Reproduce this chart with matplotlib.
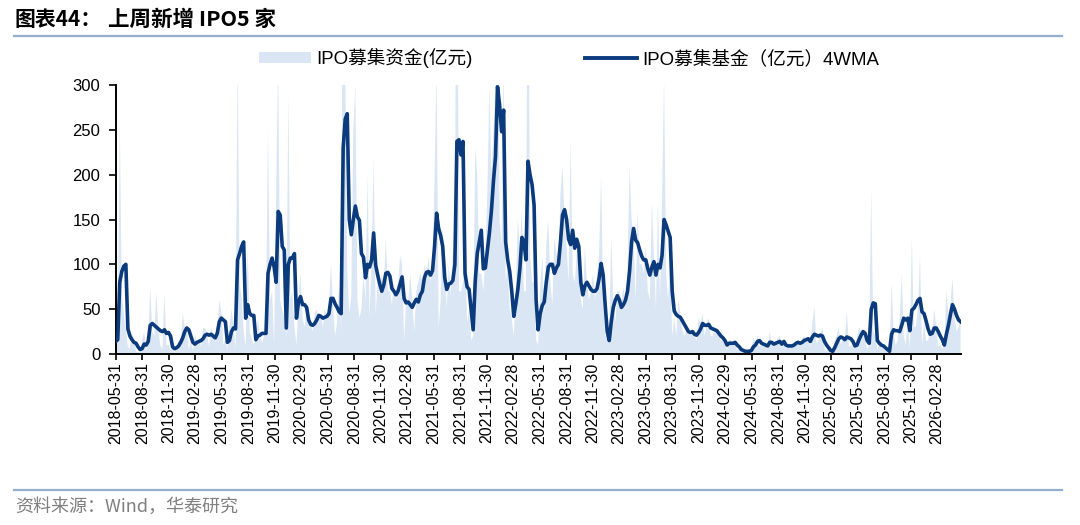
import matplotlib
matplotlib.use("Agg")
import matplotlib.pyplot as plt
from matplotlib.patches import Patch
from matplotlib.lines import Line2D
import pandas as pd
import numpy as np

# ---------------- data ----------------
start_date = "2018-05-31"

# weekly IPO raised funds (亿元)
ipo_raw = [
    15, 20, 260, 68, 44, 28, 8, 6, 25, 16,
    3, 2, 2, 15, 25, 3, 13, 75, 25, 20,
    70, 25, 10, 5, 68, 10, 10, 5, 7, 2,
    10, 15, 10, 45, 30, 31, 5, 14, 4, 21,
    13, 18, 8, 29, 29, 22, 8, 29, 21, 14,
    28, 60, 48, 10, 16, 5, 31, 50, 32, 5,
    340, 78, 64, 25, 8, 120, 24, 17, 10, 18,
    40, 21, 13, 18, 40, 250, 60, 70, 10, 180,
    330, 60, 50, 40, 20, 290, 60, 70, 30, 10,
    60, 90, 40, 30, 50, 30, 35, 25, 45, 50,
    40, 45, 30, 50, 40, 55, 100, 55, 20, 35,
    75, 30, 620, 330, 95, 45, 65, 250, 300, 60,
    40, 50, 90, 60, 200, 40, 110, 220, 45, 80,
    65, 90, 75, 130, 70, 70, 55, 80, 60, 70,
    110, 100, 15, 60, 55, 90, 60, 25, 70, 80,
    90, 80, 100, 85, 110, 80, 95, 200, 320, 30,
    60, 140, 110, 50, 100, 65, 115, 120, 650, 70,
    70, 80, 120, 35, 50, 15, 20, 230, 200, 90,
    90, 70, 110, 180, 300, 200, 250, 300, 450, 150,
    120, 330, 80, 100, 50, 40, 20, 70, 150, 120,
    160, 70, 70, 560, 110, 80, 80, 15, 10, 75,
    110, 45, 120, 150, 80, 55, 130, 110, 110, 180,
    210, 150, 120, 80, 240, 90, 80, 110, 120, 60,
    50, 120, 80, 60, 70, 90, 60, 90, 110, 200,
    60, 20, 20, 25, 130, 60, 35, 70, 70, 60,
    75, 50, 90, 210, 150, 130, 60, 160, 100, 100,
    90, 120, 70, 60, 170, 110, 50, 170, 60, 170,
    310, 90, 60, 110, 20, 40, 20, 60, 45, 25,
    20, 25, 30, 20, 25, 20, 15, 40, 35, 45,
    20, 35, 40, 20, 20, 30, 25, 20, 15, 15,
    10, 5, 15, 15, 10, 12, 5, 5, 2, 3,
    2, 3, 4, 6, 18, 12, 20, 8, 10, 8,
    12, 5, 25, 10, 8, 12, 18, 20, 6, 12,
    5, 12, 8, 10, 12, 15, 12, 10, 18, 20,
    15, 20, 8, 35, 52, 12, 15, 22, 30, 5,
    3, 8, 2, 2, 15, 20, 30, 10, 18, 15,
    48, 8, 10, 8, 10, 18, 30, 25, 28, 18,
    5, 10, 185, 25, 20, 5, 10, 8, 6, 4,
    2, 2, 80, 25, 10, 15, 40, 90, 20, 10,
    40, 5, 130, 30, 30, 50, 110, 10, 35, 15,
    15, 25, 20, 50, 30, 8, 10, 5, 10, 70,
    45, 55, 85, 40, 25, 30, 40,
]

# 4-week moving average (亿元)
ipo_4wma = [
    14, 16, 80, 92, 98, 100, 28, 20, 16, 13,
    12, 8, 5, 6, 11, 10, 14, 32, 34, 32,
    30, 28, 26, 25, 27, 23, 24, 20, 8, 6,
    7, 9, 13, 18, 25, 29, 27, 20, 13, 11,
    13, 14, 15, 17, 21, 22, 21, 22, 20, 18,
    23, 36, 40, 38, 36, 13, 15, 25, 29, 28,
    105, 112, 120, 125, 40, 55, 45, 43, 43, 16,
    20, 21, 23, 23, 23, 90, 100, 107, 97, 80,
    159, 155, 120, 116, 29, 100, 107, 107, 112, 40,
    58, 64, 55, 55, 52, 38, 33, 32, 34, 38,
    43, 42, 40, 41, 42, 45, 62, 62, 56, 52,
    47, 45, 230, 262, 268, 150, 133, 150, 165, 153,
    149, 112, 108, 85, 100, 97, 105, 135, 99, 88,
    78, 70, 77, 90, 91, 87, 73, 70, 66, 70,
    78, 86, 62, 57, 58, 55, 52, 57, 61, 58,
    66, 70, 85, 91, 92, 88, 93, 120, 157, 140,
    132, 120, 85, 72, 78, 79, 82, 100, 237, 239,
    222, 237, 90, 75, 72, 50, 27, 80, 112, 125,
    138, 95, 96, 115, 135, 160, 193, 220, 298, 278,
    248, 272, 125, 105, 92, 70, 42, 56, 72, 95,
    130, 125, 105, 215, 200, 189, 166, 60, 27, 45,
    54, 58, 80, 97, 100, 100, 90, 96, 100, 125,
    155, 161, 150, 128, 122, 138, 118, 128, 120, 80,
    66, 76, 80, 76, 72, 70, 70, 73, 84, 101,
    88, 55, 25, 15, 36, 52, 60, 65, 60, 52,
    55, 60, 70, 92, 125, 140, 127, 124, 116, 109,
    105, 105, 95, 88, 97, 103, 88, 100, 96, 110,
    150, 144, 137, 130, 70, 48, 44, 42, 41, 37,
    33, 29, 25, 24, 25, 22, 21, 24, 28, 34,
    32, 32, 33, 29, 28, 27, 26, 23, 20, 18,
    15, 10, 12, 12, 12, 13, 10, 8, 5, 4,
    3, 3, 3, 4, 8, 10, 14, 15, 12, 11,
    10, 9, 13, 13, 11, 12, 13, 14, 11, 14,
    10, 9, 9, 9, 10, 12, 13, 12, 13, 15,
    16, 17, 14, 19, 22, 21, 20, 21, 20, 14,
    10, 7, 4, 3, 7, 12, 17, 19, 18, 16,
    19, 18, 17, 14, 9, 10, 16, 21, 25, 23,
    15, 12, 50, 57, 56, 15, 12, 10, 9, 7,
    5, 3, 22, 27, 26, 26, 25, 32, 40, 38,
    40, 26, 49, 51, 55, 60, 62, 47, 45, 37,
    28, 22, 23, 29, 29, 25, 20, 16, 10, 22,
    32, 44, 55, 50, 43, 38, 36,
]

y_ticks = [0, 50, 100, 150, 200, 250, 300]
title_label = "图表44："
title_text = "上周新增 IPO5 家"
legend_area = "IPO募集资金(亿元)"
legend_line = "IPO募集基金（亿元）4WMA"
source_text = "资料来源：Wind，华泰研究"

# ---------------- figure ----------------
dates = pd.date_range(start_date, periods=len(ipo_4wma), freq="7D")
raw = np.array(ipo_raw[: len(dates)], dtype=float)
ma = np.array(ipo_4wma, dtype=float)

plt.rcParams["font.family"] = ["Liberation Sans", "Noto Sans CJK SC", "DejaVu Sans"]

W, H = 1080, 525
fig = plt.figure(figsize=(W / 100, H / 100), dpi=100)
ax = fig.add_axes([115.7 / W, 1 - 354 / H, (960.6 - 115.7) / W, (354 - 85) / H])

area_color = "#DAE6F3"
line_color = "#0B3B7C"

ax.fill_between(dates, raw, 0, color=area_color, lw=0, zorder=1)
ax.plot(dates, ma, color=line_color, lw=2.6, zorder=3, solid_joinstyle="round")

ax.set_xlim(dates[0], dates[-1])
ax.set_ylim(0, 300)
ax.set_yticks(y_ticks)

try:
    me = pd.date_range("2018-05-31", "2026-02-28", freq="ME")
except Exception:
    me = pd.date_range("2018-05-31", "2026-02-28", freq="M")
xt = me[::3]
ax.set_xticks(xt)
ax.set_xticklabels([d.strftime("%Y-%m-%d") for d in xt], rotation=90,
                   fontsize=11.5, color="#000000")
ax.tick_params(axis="x", direction="out", length=4, width=1.2, pad=2)
ax.tick_params(axis="y", direction="out", length=5, width=1.2, pad=6,
               labelsize=12)

for s in ["top", "right"]:
    ax.spines[s].set_visible(False)
for s in ["left", "bottom"]:
    ax.spines[s].set_color("#000000")
    ax.spines[s].set_linewidth(1.4)
ax.spines["bottom"].set_zorder(4)

# legend
handles = [Patch(facecolor=area_color, edgecolor="none"),
           Line2D([0], [0], color=line_color, lw=2.8)]
fig.legend(handles, [legend_area, legend_line], loc="center",
           bbox_to_anchor=(569 / W, 1 - 58 / H), ncol=2, frameon=False,
           fontsize=13.4, handlelength=2.8, handleheight=0.5,
           handletextpad=0.3, columnspacing=6.0)

# title + rules + source
cjk = ["Noto Sans CJK SC", "DejaVu Sans"]
fig.text(15 / W, 1 - 19 / H, title_label, fontsize=15, fontweight="bold",
         ha="left", va="center", family=cjk)
fig.text(108 / W, 1 - 19 / H, title_text, fontsize=15.5, fontweight="bold",
         ha="left", va="center", family=cjk)
rule_color = "#94AECD"
fig.add_artist(Line2D([14 / W, 1062 / W], [1 - 36 / H, 1 - 36 / H],
                      color=rule_color, lw=1.6, transform=fig.transFigure))
fig.add_artist(Line2D([14 / W, 1062 / W], [1 - 490 / H, 1 - 490 / H],
                      color=rule_color, lw=1.6, transform=fig.transFigure))
fig.text(15 / W, 1 - 507 / H, source_text, fontsize=13, color="#7F7F7F",
         ha="left", va="center", family=cjk)

fig.savefig("out.png", dpi=100)
